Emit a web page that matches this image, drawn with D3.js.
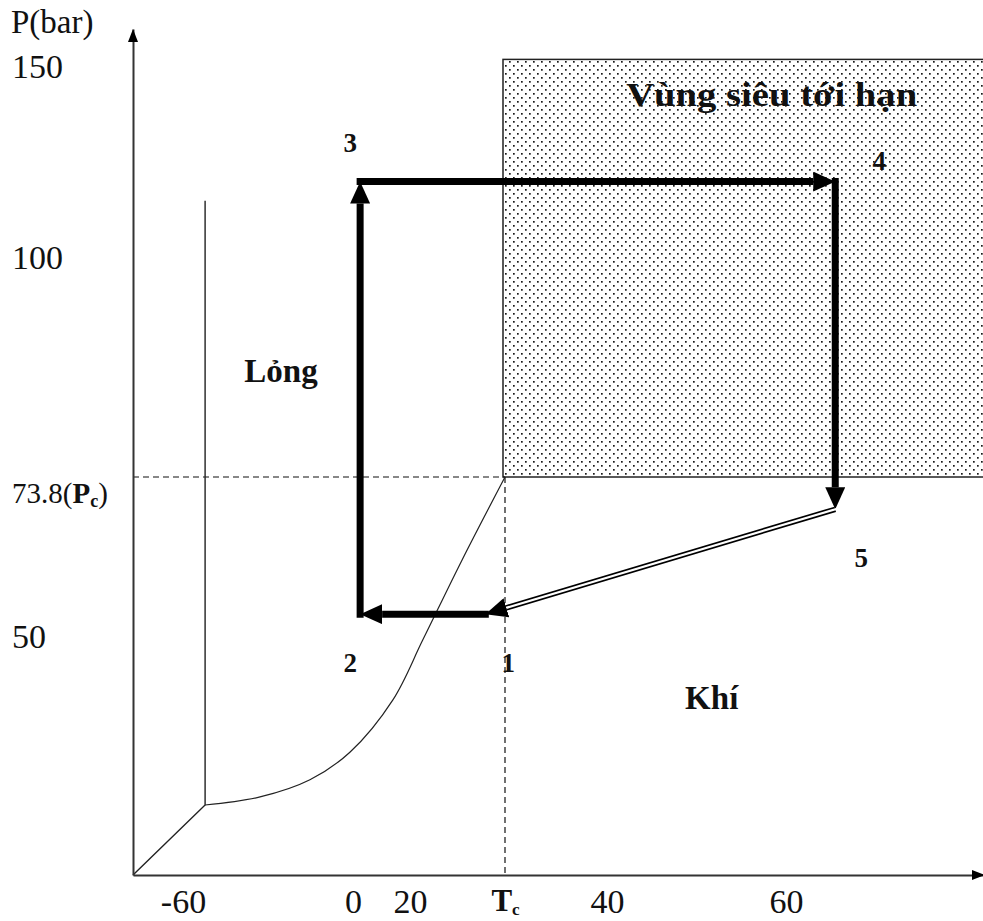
<!DOCTYPE html>
<html>
<head>
<meta charset="utf-8">
<script src="https://d3js.org/d3.v7.min.js"></script>
<style>
  html, body { margin: 0; padding: 0; background: #fff; overflow: hidden; }
  text { font-family: "Liberation Serif", "Times New Roman", serif; fill: #111; }
</style>
</head>
<body>
<div id="chart"></div>
<script>
// schematic CO2 phase diagram with a transcritical cycle
var xTicks = [-60, 0, 20, 31.1, 40, 60];
var xTickLabels = ["-60", "0", "20", "Tc", "40", "60"];
var yTicks = [150, 100, 73.8, 50];
var yTickLabels = ["150", "100", "73.8(Pc)", "50"];

var critical = { T: 31.1, P: 73.8 };
var triple = { T: -52.2, P: 14.7 };
var origin = { T: -78, P: 0 };
var meltTop = { T: -52.2, P: 115 };
var vaporT = [-52.2, -32.8, -15.2, -1.1, 14.0, 21.5, 26.1, 31.1];
var vaporP = [14.7, 16.4, 20.0, 25.8, 36.8, 49.4, 61.5, 73.8];
var superTopP = 152;

var cycleNames = ["1", "2", "3", "4", "5"];
var cycleT = [28.8, 2.5, 2.5, 65, 65];
var cycleP = [53.4, 53.4, 120, 120, 69];

var regionNames = ["Lỏng", "Khí", "Vùng siêu tới hạn"];
var regionT = [-25.4, 51.7, 58.4];
var regionP = [86.6, 37.4, 142.7];

var width = 983, height = 921;
var serif = "Liberation Serif, Times New Roman, serif";
var svg = d3.select("#chart").append("svg")
    .attr("width", width).attr("height", height);

// hand drawn diagram: axes are piecewise, not to scale
var x = d3.scaleLinear()
    .domain([-78, -60, 0, 20, 31.1, 40, 60, 80])
    .range([133, 183, 353, 410, 505, 607, 786, 983]);
var y = d3.scaleLinear()
    .domain([0, 50, 73.8, 100, 150, 160])
    .range([875, 637, 477, 258, 67, 29]);

var defs = svg.append("defs");
var pat = defs.append("pattern")
    .attr("id", "dots").attr("patternUnits", "userSpaceOnUse")
    .attr("width", 8).attr("height", 8);
pat.append("rect").attr("x", 1).attr("y", 1).attr("width", 1.7).attr("height", 1.7).attr("fill", "#1a1a1a");
pat.append("rect").attr("x", 5).attr("y", 5).attr("width", 1.7).attr("height", 1.7).attr("fill", "#1a1a1a");

function marker(id, len, wid) {
  defs.append("marker")
      .attr("id", id)
      .attr("markerUnits", "userSpaceOnUse")
      .attr("viewBox", "0 0 " + len + " " + wid)
      .attr("markerWidth", len).attr("markerHeight", wid)
      .attr("refX", 0).attr("refY", wid / 2)
      .attr("orient", "auto")
      .append("path")
      .attr("d", "M0,0L" + len + "," + wid / 2 + "L0," + wid + "Z")
      .attr("fill", "#000");
}
marker("big", 22, 20);
marker("axis", 13, 10);

// supercritical region
svg.append("rect")
    .attr("x", x(critical.T) - 2)
    .attr("y", y(superTopP))
    .attr("width", width - x(critical.T) + 10)
    .attr("height", y(critical.P) - y(superTopP))
    .attr("fill", "url(#dots)")
    .attr("stroke", "#222").attr("stroke-width", 1.5);

// dashed guides from critical point
svg.append("line")
    .attr("x1", x(origin.T)).attr("x2", x(critical.T))
    .attr("y1", y(critical.P)).attr("y2", y(critical.P))
    .attr("stroke", "#111").attr("stroke-width", 1.2).attr("stroke-dasharray", "6,4");
svg.append("line")
    .attr("x1", x(critical.T)).attr("x2", x(critical.T))
    .attr("y1", y(critical.P)).attr("y2", y(0))
    .attr("stroke", "#111").attr("stroke-width", 1.2).attr("stroke-dasharray", "6,4");

// phase boundaries
var line = d3.line().x(function (d) { return x(d[0]); }).y(function (d) { return y(d[1]); });
svg.append("path")
    .attr("d", line([[origin.T, origin.P], [triple.T, triple.P], [meltTop.T, meltTop.P]]))
    .attr("fill", "none").attr("stroke", "#222").attr("stroke-width", 1.4);
svg.append("path")
    .attr("d", line.curve(d3.curveCatmullRom)(d3.zip(vaporT, vaporP)))
    .attr("fill", "none").attr("stroke", "#222").attr("stroke-width", 1.2);
line.curve(d3.curveLinear);

// axes
var xAxis = svg.append("g")
    .attr("transform", "translate(0," + y(0) + ")")
    .call(d3.axisBottom(x).tickValues(xTicks).tickSize(0).tickPadding(14)
        .tickFormat(function (d, i) { return xTickLabels[i]; }));
var yAxis = svg.append("g")
    .attr("transform", "translate(" + x(origin.T) + ",0)")
    .call(d3.axisLeft(y).tickValues(yTicks).tickSize(0)
        .tickFormat(function (d, i) { return yTickLabels[i]; }));
[xAxis, yAxis].forEach(function (a) {
  a.attr("font-family", serif);
  a.select(".domain").attr("stroke", "#333").attr("stroke-width", 2);
  a.selectAll("text").attr("font-family", serif).attr("font-size", 34).attr("fill", "#111");
});
yAxis.selectAll("text").attr("text-anchor", "start").attr("x", 12 - x(origin.T));
xAxis.selectAll("text").attr("dy", "0.71em");

// special labels with subscripts
xAxis.selectAll("text").filter(function (d, i) { return xTickLabels[i] === "Tc"; })
    .attr("font-size", 31).text(null).call(function (t) {
      t.append("tspan").attr("font-weight", "bold").text("T");
      t.append("tspan").attr("font-weight", "bold").attr("font-size", 17).attr("dy", 4).text("c");
    });
yAxis.selectAll("text").filter(function (d, i) { return yTickLabels[i] === "73.8(Pc)"; })
    .attr("y", 16).attr("font-size", 29).text(null).call(function (t) {
      t.append("tspan").text("73.8(");
      t.append("tspan").attr("font-weight", "bold").text("P");
      t.append("tspan").attr("font-weight", "bold").attr("font-size", 18).attr("dy", 4).text("c");
      t.append("tspan").attr("dy", -4).text(")");
    });

// axis arrowheads
svg.append("line")
    .attr("x1", x(origin.T)).attr("x2", x(origin.T))
    .attr("y1", y(160) + 14).attr("y2", y(160) + 13)
    .attr("stroke", "none").attr("marker-end", "url(#axis)");
svg.append("line")
    .attr("x1", width - 12).attr("x2", width - 11)
    .attr("y1", y(0)).attr("y2", y(0))
    .attr("stroke", "none").attr("marker-end", "url(#axis)");

svg.append("text").attr("x", 11).attr("y", 33).attr("font-size", 33)
    .attr("font-family", serif).text("P(bar)");

// cycle legs
var pts = cycleNames.map(function (n, i) { return { name: n, px: x(cycleT[i]), py: y(cycleP[i]) }; });
function leg(a, b, kind) {
  var dx = b.px - a.px, dy = b.py - a.py, len = Math.sqrt(dx * dx + dy * dy);
  var ex = b.px - dx / len * 22, ey = b.py - dy / len * 22;
  if (kind === "double") {
    svg.append("line").attr("x1", a.px).attr("y1", a.py).attr("x2", ex).attr("y2", ey)
        .attr("stroke", "#000").attr("stroke-width", 5.5);
    svg.append("line").attr("x1", a.px - dx / len * 2).attr("y1", a.py - dy / len * 2).attr("x2", ex + dx / len * 2).attr("y2", ey + dy / len * 2)
        .attr("stroke", "#fff").attr("stroke-width", 2.2);
    svg.append("line").attr("x1", ex - dx / len).attr("y1", ey - dy / len).attr("x2", ex).attr("y2", ey)
        .attr("stroke", "none").attr("marker-end", "url(#big)");
  } else {
    svg.append("line").attr("x1", a.px - dx / len * 3.5).attr("y1", a.py - dy / len * 3.5).attr("x2", ex).attr("y2", ey)
        .attr("stroke", "#000").attr("stroke-width", 7).attr("marker-end", "url(#big)");
  }
}
leg(pts[0], pts[1], "thick");
leg(pts[1], pts[2], "thick");
leg(pts[2], pts[3], "thick");
leg(pts[3], pts[4], "thick");
leg(pts[4], pts[0], "double");

// point labels
var labelOff = { "1": [23, 48], "2": [-10, 48], "3": [-10, -39], "4": [44, -21], "5": [26, 48] };
svg.selectAll(".pt").data(pts).enter().append("text")
    .attr("x", function (d) { return d.px + labelOff[d.name][0]; })
    .attr("y", function (d) { return d.py + labelOff[d.name][1]; })
    .attr("dy", "0.35em").attr("text-anchor", "middle")
    .attr("font-family", serif)
    .attr("font-size", 27).attr("font-weight", "bold")
    .text(function (d) { return d.name; });

// region labels
svg.selectAll(".reg").data(regionNames).enter().append("text")
    .attr("x", function (d, i) { return x(regionT[i]); })
    .attr("y", function (d, i) { return y(regionP[i]); })
    .attr("dy", "0.35em").attr("text-anchor", "middle")
    .attr("font-family", serif)
    .attr("font-size", 33).attr("font-weight", "bold")
    .each(function (d) {
      if (d === "Vùng siêu tới hạn") d3.select(this).attr("textLength", 291).attr("lengthAdjust", "spacingAndGlyphs");
    })
    .text(function (d) { return d; });
</script>
</body>
</html>
